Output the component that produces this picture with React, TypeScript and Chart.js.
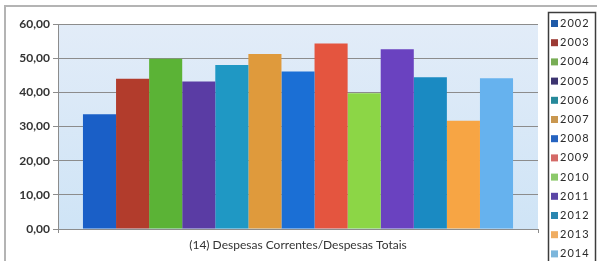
import { useEffect, useRef } from 'react';
import { Chart, registerables } from 'chart.js';

Chart.register(...registerables);

const categories = [''];
const years = ['2002', '2003', '2004', '2005', '2006', '2007', '2008', '2009', '2010', '2011', '2012', '2013', '2014'];
const values = [33.6, 44.0, 49.8, 43.2, 48.0, 51.2, 46.1, 54.3, 39.7, 52.6, 44.4, 31.7, 44.1];
const colors = ['#1a5fc7', '#b23c2c', '#5bb336', '#5a3ca4', '#1f98c4', '#df9a3c', '#1b6fd5', '#e4553f', '#8cd646', '#6a42c0', '#1a8ac2', '#f7a544', '#66b2ee'];
const legendColors = ['#1f5aa8', '#9c3b35', '#78ad55', '#3c3470', '#26899a', '#c9974f', '#2563c0', '#d46a67', '#8cc96a', '#5b46a6', '#2a86b0', '#efad62', '#7cb6dc'];
const xTitle = '(14) Despesas Correntes/Despesas Totais';
const yMin = 0;
const yMax = 60;
const yStep = 10;

const FONT = 'Lato, "Open Sans", sans-serif';

const framePlugin = {
  id: 'frame',
  beforeDraw(chart: any) {
    const { ctx, chartArea, width, height } = chart;
    ctx.save();
    ctx.fillStyle = '#ffffff';
    ctx.fillRect(0, 0, width, height);
    // outer border
    ctx.strokeStyle = '#b4b4b4';
    ctx.lineWidth = 2;
    ctx.beginPath();
    ctx.moveTo(5, height + 2);
    ctx.lineTo(5, 6);
    ctx.lineTo(width + 2, 6);
    ctx.stroke();
    // plot background
    const g = ctx.createLinearGradient(0, chartArea.top, 0, chartArea.bottom);
    g.addColorStop(0, '#e2ecf8');
    g.addColorStop(1, '#cfe4f6');
    ctx.fillStyle = g;
    ctx.fillRect(chartArea.left, chartArea.top, chartArea.right - chartArea.left, chartArea.bottom - chartArea.top);
    ctx.restore();
  },
  afterDraw(chart: any) {
    const { ctx, height } = chart;
    ctx.save();
    ctx.strokeStyle = '#3c3c3c';
    ctx.lineWidth = 1.5;
    ctx.strokeRect(548.5, 12.5, 47, height + 10);
    ctx.font = '11px ' + FONT;
    ctx.textBaseline = 'middle';
    ctx.fillStyle = '#2a2a2a';
    try { (ctx as any).letterSpacing = '1px'; } catch (e) {}
    chart.data.datasets.forEach((ds: any, i: number) => {
      const y = 23 + i * 19.2;
      ctx.fillStyle = legendColors[i];
      ctx.fillRect(551, y - 3, 7, 7);
      ctx.fillStyle = '#2a2a2a';
      ctx.fillText(ds.label, 560, y + 0.5);
    });
    ctx.restore();
  },
};

export default function App() {
  const ref = useRef<HTMLCanvasElement | null>(null);
  useEffect(() => {
    if (!ref.current) return;
    const chart = new Chart(ref.current, {
      type: 'bar',
      data: {
        labels: categories,
        datasets: years.map((y, i) => ({
          label: y,
          data: [values[i]],
          backgroundColor: colors[i],
          borderWidth: 0,
          barPercentage: 1,
          categoryPercentage: 0.896,
        })),
      },
      options: {
        animation: false,
        responsive: false,
        layout: { padding: { left: 5, top: 24, right: 59, bottom: 0 } },
        plugins: { legend: { display: false }, tooltip: { enabled: false } },
        scales: {
          x: {
            ticks: { display: false },
            grid: { display: true, drawOnChartArea: false, drawTicks: true, tickLength: 4, color: '#8c8c8c' },
            border: { display: true, color: '#8c8c8c' },
            title: { display: true, text: xTitle, color: '#333333', font: { family: FONT, size: 12 }, padding: { top: 4, bottom: 9 } },
            afterFit: (scale: any) => { scale.height = 32; },
          },
          y: {
            min: yMin,
            max: yMax,
            ticks: {
              stepSize: yStep,
              color: '#333333',
              padding: 3,
              font: { family: FONT, size: 12, weight: 'bold' },
              callback: (v: any) => Number(v).toFixed(2).replace('.', ','),
            },
            grid: { color: '#8c8c8c', tickLength: 5 },
            border: { display: true, color: '#8c8c8c' },
            afterFit: (scale: any) => { scale.width = 53; },
          },
        },
      },
      plugins: [framePlugin],
    });
    return () => chart.destroy();
  }, []);
  return (
    <div style={{ position: 'absolute', left: 0, top: 0, width: 597, height: 261 }}>
      <canvas ref={ref} width={597} height={261} style={{ display: 'block', width: 597, height: 261 }} />
    </div>
  );
}
